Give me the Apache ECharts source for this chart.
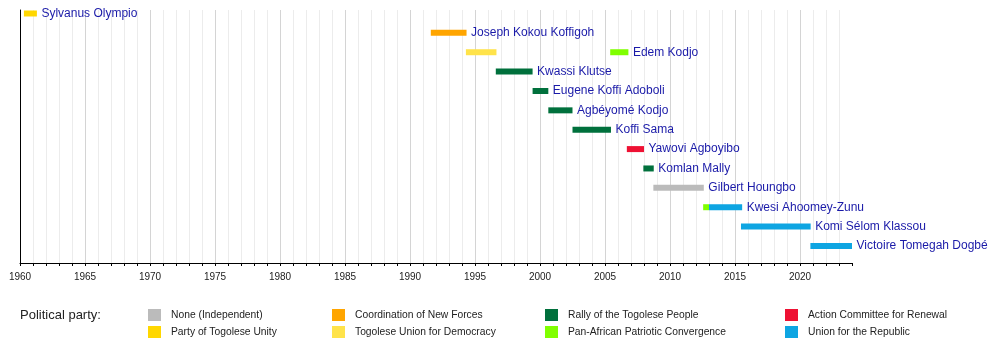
<!DOCTYPE html>
<html>
<head>
<meta charset="utf-8">
<script src="https://cdn.jsdelivr.net/npm/echarts@6/dist/echarts.min.js"></script>
<style>
html,body{margin:0;padding:0;background:#fff;}
#chart{width:1000px;height:342px;}
</style>
</head>
<body>
<div id="chart"></div>
<script>
// ---- data ----
const names = ['Sylvanus Olympio','Joseph Kokou Koffigoh','Edem Kodjo','Kwassi Klutse','Eugene Koffi Adoboli','Agbéyomé Kodjo','Koffi Sama','Yawovi Agboyibo','Komlan Mally','Gilbert Houngbo','Kwesi Ahoomey-Zunu','Komi Sélom Klassou','Victoire Tomegah Dogbé'];
const parties = ['None (Independent)','Party of Togolese Unity','Coordination of New Forces','Togolese Union for Democracy','Rally of the Togolese People','Pan-African Patriotic Convergence','Action Committee for Renewal','Union for the Republic'];
const partyColors = ['#bbbbbb','#ffd700','#ffa500','#ffe34a','#00703c','#80ff00','#ee1133','#0ea5e2'];
// segments: row index, start year, end year, party index
const segRow   = [0, 1, 2, 2, 3, 4, 5, 6, 7, 8, 9, 10, 10, 11, 12];
const segStart = [1960.3, 1991.6, 1994.3, 2005.4, 1996.6, 1999.43, 2000.64, 2002.5, 2006.68, 2007.95, 2008.72, 2012.55, 2013.0, 2015.46, 2020.8];
const segEnd   = [1961.3, 1994.35, 1996.65, 2006.8, 1999.43, 2000.64, 2002.5, 2005.46, 2008.0, 2008.75, 2012.6, 2013.0, 2015.55, 2020.82, 2024.0];
const segParty = [1, 2, 3, 5, 4, 4, 4, 4, 6, 4, 0, 5, 7, 7, 7];
const axisMin = 1960, axisMax = 2024;

// ---- build ----
const labelFont = 'Liberation Sans, Arial, sans-serif';
function renderBar(params, api) {
  const s = api.coord([api.value(0), api.value(2)]);
  const e = api.coord([api.value(1), api.value(2)]);
  return {type: 'rect', shape: {x: s[0], y: s[1] - 3, width: e[0] - s[0], height: 6}, style: {fill: api.visual('color')}};
}
const series = parties.map((p, pi) => {
  const data = [];
  for (let i = 0; i < segRow.length; i++) if (segParty[i] === pi) data.push([segStart[i], segEnd[i], segRow[i]]);
  return {type: 'custom', name: p, color: partyColors[pi], renderItem: renderBar, encode: {x: [0, 1], y: 2}, data: data, silent: true};
});
const labelData = names.map((n, r) => {
  let m = -Infinity;
  for (let i = 0; i < segRow.length; i++) if (segRow[i] === r) m = Math.max(m, segEnd[i]);
  return [m, r];
});
series.push({
  type: 'custom', name: 'labels', silent: true, data: labelData, encode: {x: 0, y: 1},
  renderItem: function (params, api) {
    const p = api.coord([api.value(0), api.value(1)]);
    return {type: 'text', style: {text: names[api.value(1)], x: p[0] + 4.5, y: p[1], verticalAlign: 'middle', align: 'left', fill: '#1a1aa8', fontSize: 12, fontFamily: labelFont}};
  }
});

const legendCols = [[0, 1], [2, 3], [4, 5], [6, 7]];
const legendLeft = [148, 332, 545, 785];
const legends = legendCols.map((c, i) => ({
  orient: 'vertical', left: legendLeft[i], top: 309, padding: 0, itemWidth: 13, itemHeight: 12, itemGap: 5,
  icon: 'rect', selectedMode: false, data: c.map(k => parties[k]),
  textStyle: {fontSize: 10.3, color: '#222', fontFamily: labelFont, padding: [0, 0, 0, 5]}
}));

const chart = echarts.init(document.getElementById('chart'), null, {renderer: 'canvas'});
chart.setOption({
  animation: false,
  backgroundColor: '#fff',
  title: {text: 'Political party:', left: 20, top: 309, padding: 0, textStyle: {fontSize: 13, fontWeight: 'normal', color: '#222', fontFamily: labelFont}},
  grid: {left: 20, right: 148, top: 10, bottom: 79},
  xAxis: {
    type: 'value', position: 'bottom', min: axisMin, max: axisMax, interval: 1,
    axisLine: {show: true, onZero: false, lineStyle: {color: '#000', width: 1}},
    axisTick: {show: true, length: 3, lineStyle: {color: '#000'}},
    axisLabel: {margin: 9, fontSize: 10, color: '#222', fontFamily: labelFont, formatter: v => (v % 5 === 0 && v < 2024) ? String(v) : ''},
    splitLine: {show: true, showMaxLine: false, lineStyle: {color: ['#d4d4d4', '#ececec', '#ececec', '#ececec', '#ececec'], width: 1}}
  },
  yAxis: {
    type: 'value', min: -0.18, max: 12.88, inverse: true,
    axisLine: {show: true, onZero: false, lineStyle: {color: '#000'}},
    axisTick: {show: false}, axisLabel: {show: false}, splitLine: {show: false}
  },
  legend: legends,
  series: series
});
</script>
</body>
</html>
